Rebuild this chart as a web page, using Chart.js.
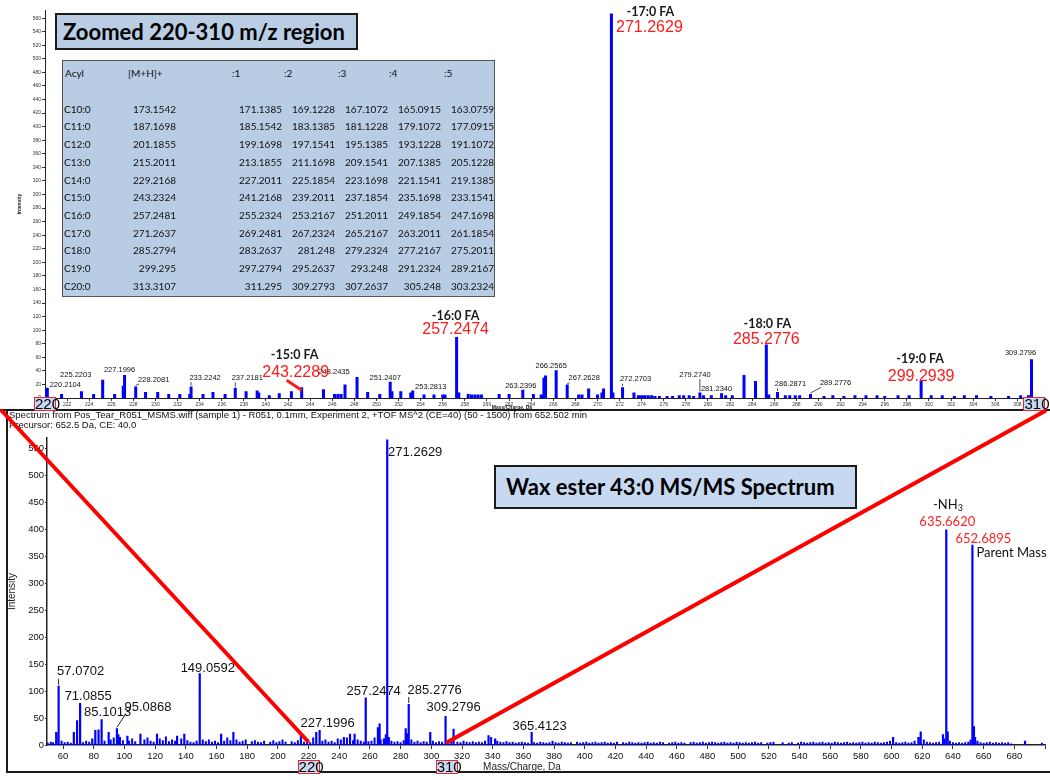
<!DOCTYPE html>
<html>
<head>
<meta charset="utf-8">
<script src="https://cdn.jsdelivr.net/npm/chart.js@4.4.1/dist/chart.umd.min.js"></script>
<style>
html,body{margin:0;padding:0;background:#fff;}
body{position:relative;width:1050px;height:780px;overflow:hidden;font-family:"Liberation Sans",Arial,sans-serif;}
canvas{position:absolute;left:0;}
#c1{top:0;}
#c2{top:410px;}
#sep{position:absolute;left:0;top:409px;width:1050px;height:0;border-top:2px solid #1a1a1a;}
#panel{position:absolute;left:6px;top:409px;width:1044px;height:362px;border-left:2px solid #1a1a1a;border-bottom:2px solid #1a1a1a;}
.hdr{position:absolute;left:9px;font-size:9.5px;color:#111;white-space:nowrap;line-height:11px;}
.tbox{position:absolute;box-sizing:border-box;border:2px solid #1a1a1a;font-family:Lato,"Open Sans",sans-serif;font-weight:bold;font-size:22px;color:#000;white-space:nowrap;padding-left:6px;}
.rbox{position:absolute;box-sizing:border-box;border:1.5px solid #e8262b;background:#c6d9f1;font-size:15px;color:#000;text-align:center;width:22px;height:14px;line-height:12px;}
#tbl{position:absolute;left:62px;top:60px;width:433px;height:237px;box-sizing:border-box;border:1px solid #555;background:#b8cce4;font-family:Lato,sans-serif;font-size:10px;color:#111;}
#tbl span{position:absolute;white-space:nowrap;line-height:12px;}
#overlay{position:absolute;left:0;top:0;pointer-events:none;}
</style>
</head>
<body>
<div id="panel"></div>
<div id="sep"></div>
<canvas id="c1" width="1050" height="410"></canvas>
<canvas id="c2" width="1050" height="370"></canvas>
<div class="hdr" style="top:409px">Spectrum from Pos_Tear_R051_MSMS.wiff (sample 1) - R051, 0.1mm, Experiment 2, +TOF MS^2 (CE=40) (50 - 1500) from 652.502 min</div>
<div class="hdr" style="top:419px">Precursor: 652.5 Da, CE: 40.0</div>
<div class="tbox" style="left:55px;top:13px;width:303px;height:37px;line-height:33px;background:#b9cde5;">Zoomed 220-310 m/z region</div>
<div class="tbox" style="left:494px;top:465px;width:363px;height:44px;line-height:40px;background:#c6d9f1;padding-left:10px;">Wax ester 43:0 MS/MS Spectrum</div>
<div id="tbl"></div>
<div class="rbox" id="bT1">220</div>
<div class="rbox" id="bT2">310</div>
<div class="rbox" id="bB1">220</div>
<div class="rbox" id="bB2">310</div>
<canvas id="overlay" width="1050" height="780"></canvas>
<script>
// ---------------- DATA ----------------
// Zoomed spectrum (m/z, intensity)
const topPeaks = [
 [220.10,10],[220.21,15],[221.50,6],[223.30,10],[224.40,6],[225.22,27],[226.30,6],[227.08,18],[227.20,34],[228.21,17],
 [229.10,9],[230.20,9],[231.20,6],[232.20,6],[233.10,6],[233.22,17],[234.30,6],[235.20,9],[236.30,6],[237.22,15],
 [238.20,10],[239.20,11],[239.35,8],[240.30,4],[241.20,7],[242.30,10],[243.23,16],[245.20,13],[246.20,6],[246.50,6],
 [246.80,6],[247.15,20],[248.24,31],[249.20,9],[250.30,6],[251.24,24],[251.40,10],[252.20,10],[253.10,8],[253.28,11],
 [254.30,5],[255.20,5],[256.00,5],[256.20,5],[257.25,90],[257.45,8],[258.30,6],[258.60,5],[258.90,5],[259.20,5],
 [259.50,5],[261.10,6],[262.00,6],[263.24,12],[264.20,6],[264.90,5],[265.15,30],[265.30,33],[266.26,41],[267.26,20],
 [268.30,5],[268.60,5],[269.20,14],[270.00,5],[270.40,8],[270.55,14],[271.26,567],[271.40,8],[272.27,16],[273.30,8],
 [273.70,4],[273.90,4],[274.10,4],[274.30,4],[274.60,4],[274.90,4],[275.20,3],[275.60,3],[276.30,3],[276.80,3],
 [277.40,4],[277.80,4],[278.30,4],[278.70,3],[279.27,8],[279.60,4],[280.30,4],[281.23,7],[281.60,4],[282.20,4],
 [283.26,34],[284.30,25],[285.28,79],[285.50,5],[286.29,9],[287.00,4],[287.40,4],[287.90,4],[288.30,4],[289.28,6],
 [290.50,3],[291.30,4],[292.30,3],[293.30,4],[294.30,4],[295.30,4],[296.00,3],[297.20,4],[298.20,4],[299.29,26],
 [300.20,4],[301.20,4],[302.30,3],[303.20,4],[304.30,4],[305.60,3],[307.20,3],[308.30,4],[309.00,4],[309.28,57]
];
const topSmallLabels = [
 [220.21,'220.2104'],[225.22,'225.2203'],[227.20,'227.1996'],[228.21,'228.2081'],[233.22,'233.2242'],[237.22,'237.2181'],
 [248.24,'248.2435'],[251.24,'251.2407'],[253.28,'253.2813'],[263.24,'263.2396'],[266.26,'266.2565'],[267.26,'267.2628'],
 [272.27,'272.2703'],[279.27,'279.2740'],[281.23,'281.2340'],[286.29,'286.2871'],[289.28,'289.2776'],[309.28,'309.2796']
];
const faPeaks  = [243.23, 257.25, 271.26, 285.28, 299.29];
const faNames  = ['-15:0 FA','-16:0 FA','-17:0 FA','-18:0 FA','-19:0 FA'];
const faMasses = ['243.2289','257.2474','271.2629','285.2776','299.2939'];

// Full MS/MS spectrum (m/z, intensity)
const bottomPeaks = [
 [55.5,24],[57.07,110],[67.0,24],[69.1,46],[71.09,78],[79.0,12],[81.0,28],[83.1,29],[85.10,48],[89.7,24],
 [95.09,31],[96.0,20],[97.0,15],[101.9,17],[110.4,21],[121.2,21],[134.3,17],[139.0,21],[149.06,133],[163.0,21],
 [171.0,24],[215.0,24],[225.0,24],[227.20,28],[243.0,15],[247.0,21],[250.0,21],[257.25,88],[265.2,33],[266.3,40],
 [271.26,567],[272.3,15],[283.3,31],[284.3,22],[285.28,76],[299.3,24],[309.28,54],[314.5,30],[337.3,18],[341.6,12],
 [365.41,24],[601.0,15],[617.5,15],[619.0,25],[633.5,20],[635.66,400],[636.6,25],[652.69,372],[653.7,35],[687.0,8]
];
const bottomNoise = [
 [50,4],[52,6],[53.5,5],[59,8],[61,5],[63,6],[65,4],[73,5],[75,8],[77,6],[87,8],[91,10],[93,14],[99,9],[103,8],[105,12],[107,7],
 [113,10],[115,14],[117,8],[119,6],[123,12],[125,9],[127,16],[129,7],[131,10],[133,8],[137,12],[141,9],[143,6],[145,5],[147,8],
 [151,10],[153,7],[155,10],[157,6],[159,8],[161,5],[165,8],[167,14],[169,9],[173,10],[175,6],[177,8],[179,10],[183,7],[185,9],
 [187,6],[189,5],[191,8],[195,6],[197,9],[199,5],[201,7],[203,10],[205,6],[209,7],[211,5],[213,9],[217,6],[219,8],[221,5],[223,14],
 [229,8],[231,10],[233,6],[235,8],[237,5],[239,12],[241,10],[245,14],[249,9],[252,10],[254,8],[256,6],[259,7],[261,8],[263,14],
 [267,10],[269,12],[270.3,20],[274,8],[276,6],[278,7],[280,5],[282,9],[287,10],[289,6],[291,8],[293,5],[295,7],[297,6],[301,8],
 [303,5],[305,7],[307,6],[311,8],[313,10],[317,6],[319,5],[321,8],[323,6],[325,5],[327,7],[329,5],[331,6],[333,5],[335,8],[339,15],
 [343,8],[345,6],[347,5],[349,7],[351,5],[353,6],[355,4],[357,5],[359,6],[361,5],[363,4],[367,5],[369,4],[371,6],[373,5],[375,4],
 [377,5],[379,8],[381,5],[383,4],[385,6],[387,5],[389,4],[391,5],[395,6],[397,4],[399,5],[401,6],[403,4],[405,5],[407,6],[409,4],
 [411,5],[413,6],[415,4],[417,5],[419,4],[421,6],[425,5],[427,4],[429,6],[431,5],[433,4],[435,5],[437,4],[439,5],[441,6],[443,4],
 [445,5],[447,4],[449,6],[451,5],[455,4],[457,5],[459,6],[461,4],[463,5],[465,4],[469,5],[471,6],[473,4],[475,5],[477,6],[479,4],
 [481,5],[483,6],[485,5],[487,4],[489,5],[491,6],[493,4],[495,5],[497,4],[499,6],[501,5],[503,4],[505,5],[507,4],[509,5],[511,6],
 [513,4],[515,5],[519,4],[521,5],[523,6],[529,5],[533,4],[535,5],[539,4],[541,6],[543,5],[545,4],[547,5],[549,6],[551,4],[553,5],
 [555,6],[557,4],[559,5],[561,4],[563,6],[565,5],[567,4],[569,5],[571,6],[573,4],[575,5],[577,4],[579,5],[581,6],[583,4],[585,5],
 [587,4],[589,6],[591,5],[593,4],[595,5],[597,6],[599,8],[603,5],[605,4],[607,5],[609,6],[611,4],[613,5],[615,8],[621,10],[623,6],
 [625,5],[627,4],[629,5],[631,6],[634.5,12],[638,8],[640,5],[642,4],[644,5],[646,4],[648,5],[650,6],[651.5,10],[654.5,15],[656,8],
 [658,5],[660,4],[662,5],[664,6],[666,4],[668,5],[670,4],[672,5],[674,4],[676,5],[678,3],[698,4]
];
const bottomLabels = [
 [57.07,'57.0702'],[71.09,'71.0855'],[85.10,'85.1013'],[95.09,'95.0868'],[149.06,'149.0592'],[227.20,'227.1996'],
 [257.25,'257.2474'],[271.26,'271.2629'],[285.28,'285.2776'],[309.28,'309.2796'],[365.41,'365.4123']
];
const nh3Peak = 635.66, nh3Mass = '635.6620';
const parentPeak = 652.69, parentMass = '652.6895';
const zoomRange = [220, 310];

// Table of acyl fragment masses
const tableHeader = ['Acyl','[M+H]+',':1',':2',':3',':4',':5'];
const acylNames = ['C10:0','C11:0','C12:0','C13:0','C14:0','C15:0','C16:0','C17:0','C18:0','C19:0','C20:0'];
const mhMass = ['173.1542','187.1698','201.1855','215.2011','229.2168','243.2324','257.2481','271.2637','285.2794','299.295','313.3107'];
const unsat1 = ['171.1385','185.1542','199.1698','213.1855','227.2011','241.2168','255.2324','269.2481','283.2637','297.2794','311.295'];
const unsat2 = ['169.1228','183.1385','197.1541','211.1698','225.1854','239.2011','253.2167','267.2324','281.248','295.2637','309.2793'];
const unsat3 = ['167.1072','181.1228','195.1385','209.1541','223.1698','237.1854','251.2011','265.2167','279.2324','293.248','307.2637'];
const unsat4 = ['165.0915','179.1072','193.1228','207.1385','221.1541','235.1698','249.1854','263.2011','277.2167','291.2324','305.248'];
const unsat5 = ['163.0759','177.0915','191.1072','205.1228','219.1385','233.1541','247.1698','261.1854','275.2011','289.2167','303.2324'];

// ---------------- LAYOUT (offsets in px, not data) ----------------
const topSmallLayout = [[18,-3,0],[-27,-5,1],[-5,-5,0],[18,-7,1],[14,-9,1],[12,-10,1],[-23,-5,0],[-5,-4,0],[18,-4,1],
 [-2,-4,0],[-5,-4,0],[17,-6,1],[13,-8,1],[-5,-18,1],[-5,-4,0],[13,-8,1],[25,-11,1],[-11,-6,0]];
const faLayout = [[-7,-32,-6,-15,1],[-1,-21,-1,-7,0],[39,-1,38,14,0],[1,-20,0,-5,0],[-1,-21,0,-4,0]];
const bottomLayout = [[22,-14,1],[8,-7,0],[6,-7,0],[31,-21,1],[8,-5,0],[8,-6,0],[8,-6,0],[28,13,0],[26,-14,1],[8,-8,0],[8,-6,0]];

// ---------------- HELPERS ----------------
function sticks(list){ const out=[]; list.forEach(([m,v])=>{ out.push({x:m,y:0},{x:m,y:v},{x:m,y:null}); }); return out; }
function valAt(list,m){ const p=list.find(q=>Math.abs(q[0]-m)<1e-6); return p?p[1]:0; }
function leader(ctx,px,py,tx,ty,w,h,color,lw){
  let sx=Math.min(Math.max(px,tx-w/2+1),tx+w/2-1);
  const sy=ty+h/2+1;
  if(py-1<=sy) return;
  ctx.beginPath(); ctx.moveTo(sx,sy); ctx.lineTo(px,py-1);
  ctx.lineWidth=lw; ctx.strokeStyle=color; ctx.stroke();
}

// ---------------- TOP CHART ----------------
const topPlugin = {id:'topAnn', afterDraw(chart){
  const {ctx, scales:{x,y}, chartArea:a} = chart;
  ctx.save();
  ctx.textAlign='center'; ctx.textBaseline='middle';
  // small labels
  ctx.font='7.5px "Liberation Sans", Arial'; ctx.fillStyle='#111';
  topSmallLabels.forEach(([m,t],i)=>{
    const px=x.getPixelForValue(m), py=y.getPixelForValue(valAt(topPeaks,m));
    const [dx,dy,ld]=topSmallLayout[i]; const tx=px+dx, ty=py+dy;
    ctx.fillText(t,tx,ty);
    if(ld){ const w=ctx.measureText(t).width; leader(ctx,px,py,tx,ty,w,7,'#222',0.8); }
  });
  // FA labels
  faPeaks.forEach((m,i)=>{
    const px=x.getPixelForValue(m), py=y.getPixelForValue(valAt(topPeaks,m));
    const [ndx,ndy,mdx,mdy,ld]=faLayout[i];
    ctx.font='bold 12.5px Lato, "Open Sans", sans-serif'; ctx.fillStyle='#1a1a1a';
    ctx.fillText(faNames[i],px+ndx,py+ndy);
    ctx.font='16px "Liberation Sans", Arial'; ctx.fillStyle='#ff1a1a';
    ctx.fillText(faMasses[i],px+mdx,py+mdy);
    if(ld){ ctx.beginPath(); ctx.moveTo(px+mdx-9,py+mdy+8); ctx.lineTo(px,py+3); ctx.lineWidth=3; ctx.strokeStyle='#ff1a1a'; ctx.stroke(); }
  });
  // axis titles
  ctx.fillStyle='#222'; ctx.font='bold 5px "Liberation Sans", Arial';
  ctx.fillText('Mass/Charge, Da',(a.left+a.right)/2-33,a.bottom+9.5);
  ctx.translate(a.left-25,(a.top+a.bottom)/2); ctx.rotate(-Math.PI/2);
  ctx.fillText('Intensity',0,0);
  ctx.restore();
}};

const chartT = new Chart(document.getElementById('c1'),{
  type:'line',
  data:{datasets:[{data:sticks(topPeaks),borderColor:'#0000ff',borderWidth:3,pointRadius:0,spanGaps:false,tension:0,borderCapStyle:'butt'}]},
  options:{
    responsive:false, animation:false, devicePixelRatio:1, events:[],
    layout:{padding:{top:10,right:5,left:0,bottom:0}},
    plugins:{legend:{display:false},tooltip:{enabled:false}},
    scales:{
      x:{type:'linear',min:220,max:310.5,
        afterFit:(s)=>{s.height=12;},
        ticks:{stepSize:2,autoSkip:false,maxRotation:0,includeBounds:false,padding:1,font:{size:5,family:'"Liberation Sans", Arial'},color:'#333',
          callback:(v)=> (v===220||v===310)?'':String(v)},
        grid:{display:true,drawOnChartArea:false,tickLength:3,color:'#333'},
        border:{color:'#222',width:1}},
      y:{min:0,max:572,
        afterFit:(s)=>{s.width=45;},
        ticks:{stepSize:20,includeBounds:false,padding:1,font:{size:5,family:'"Liberation Sans", Arial'},color:'#333'},
        grid:{display:true,drawOnChartArea:false,tickLength:3,color:'#333'},
        border:{color:'#222',width:1}}
    }
  },
  plugins:[topPlugin]
});

// ---------------- BOTTOM CHART ----------------
const botPlugin = {id:'botAnn', afterDraw(chart){
  const {ctx, scales:{x,y}, chartArea:a} = chart;
  ctx.save();
  ctx.textAlign='center'; ctx.textBaseline='middle';
  ctx.font='13px "Liberation Sans", Arial'; ctx.fillStyle='#111';
  bottomLabels.forEach(([m,t],i)=>{
    const px=x.getPixelForValue(m), py=y.getPixelForValue(valAt(bottomPeaks,m));
    const [dx,dy,ld]=bottomLayout[i]; const tx=px+dx, ty=py+dy;
    ctx.fillText(t,tx,ty);
    if(ld){ const w=ctx.measureText(t).width; leader(ctx,px,py,tx,ty,w,12,'#222',1); }
  });
  // -NH3 / 635.6620
  let px=x.getPixelForValue(nh3Peak), py=y.getPixelForValue(valAt(bottomPeaks,nh3Peak));
  ctx.font='13px Lato, "Open Sans", sans-serif'; ctx.fillStyle='#111';
  const wNH=ctx.measureText('-NH').width;
  ctx.textAlign='left';
  ctx.fillText('-NH',px+2-wNH/2-3,py-25);
  ctx.font='9px Lato, "Open Sans", sans-serif';
  ctx.fillText('3',px+2+wNH/2-3,py-21);
  ctx.textAlign='center';
  ctx.font='13px Lato, "Open Sans", sans-serif'; ctx.fillStyle='#ff2020';
  ctx.fillText(nh3Mass,px+1,py-8);
  // parent
  px=x.getPixelForValue(parentPeak); py=y.getPixelForValue(valAt(bottomPeaks,parentPeak));
  ctx.fillText(parentMass,px+11,py-6);
  ctx.fillStyle='#111'; ctx.textAlign='left';
  ctx.fillText('Parent Mass',px+4,py+8);
  // axis titles
  ctx.textAlign='center'; ctx.fillStyle='#222'; ctx.font='10px "Liberation Sans", Arial';
  ctx.fillText('Mass/Charge, Da',(a.left+a.right)/2-24,a.bottom+22);
  ctx.translate(12,(a.top+a.bottom)/2); ctx.rotate(-Math.PI/2);
  ctx.fillText('Intensity',0,0);
  ctx.restore();
}};

const chartB = new Chart(document.getElementById('c2'),{
  type:'line',
  data:{datasets:[
    {data:sticks(bottomNoise),borderColor:'#0000ff',borderWidth:2,pointRadius:0,spanGaps:false,tension:0,borderCapStyle:'butt'},
    {data:sticks(bottomPeaks),borderColor:'#0000ff',borderWidth:2.2,pointRadius:0,spanGaps:false,tension:0,borderCapStyle:'butt'}
  ]},
  options:{
    responsive:false, animation:false, devicePixelRatio:1, events:[],
    layout:{padding:{top:28,right:5,left:0,bottom:0}},
    plugins:{legend:{display:false},tooltip:{enabled:false}},
    scales:{
      x:{type:'linear',min:49.5,max:700,
        afterFit:(s)=>{s.height=35;},
        ticks:{stepSize:20,autoSkip:false,maxRotation:0,includeBounds:false,padding:2,font:{size:9.5,family:'"Liberation Sans", Arial'},color:'#111',
          callback:(v)=> (v<60||v>680)?'':String(v)},
        grid:{display:true,drawOnChartArea:false,tickLength:4,color:'#333'},
        border:{color:'#222',width:1.5}},
      y:{min:0,max:570,
        afterFit:(s)=>{s.width=47;},
        ticks:{stepSize:50,includeBounds:false,padding:1,font:{size:9.5,family:'"Liberation Sans", Arial'},color:'#111'},
        grid:{display:true,drawOnChartArea:false,tickLength:2,color:'#333'},
        border:{color:'#222',width:1.5}}
    }
  },
  plugins:[botPlugin]
});

// ---------------- TABLE ----------------
(function(){
  const tbl=document.getElementById('tbl');
  function put(txt,left,right,mid){
    const s=document.createElement('span'); s.textContent=txt;
    if(right!=null){ s.style.right=(433-2-right)+'px'; } else { s.style.left=left+'px'; }
    s.style.top=(mid-6)+'px'; tbl.appendChild(s);
  }
  const hdrLeft=[2,65,169,221,275,326,381];
  tableHeader.forEach((h,i)=>put(h,hdrLeft[i],null,12));
  const rights=[113,219,272,325,378,431];
  const cols=[mhMass,unsat1,unsat2,unsat3,unsat4,unsat5];
  acylNames.forEach((n,r)=>{
    const mid=47.7+17.7*r;
    put(n,1,null,mid);
    cols.forEach((c,ci)=>put(c[r],null,rights[ci],mid));
  });
})();

// ---------------- RED BOXES & ZOOM LINES ----------------
(function(){
  const tx=chartT.scales.x, bx=chartB.scales.x, by=chartB.scales.y;
  function place(id,cx,top){ const e=document.getElementById(id); e.style.left=(cx-11)+'px'; e.style.top=top+'px'; }
  place('bT1',tx.getPixelForValue(zoomRange[0]),397);
  place('bT2',tx.getPixelForValue(zoomRange[1])-5,397);
  const bTop=410+chartB.chartArea.bottom+15;
  place('bB1',bx.getPixelForValue(zoomRange[0]),bTop);
  place('bB2',bx.getPixelForValue(zoomRange[1]),bTop);
  const ov=document.getElementById('overlay').getContext('2d');
  const baseY=410+by.getPixelForValue(0);
  ov.strokeStyle='#ff0000'; ov.lineWidth=4; ov.lineCap='round';
  ov.beginPath(); ov.moveTo(chartT.chartArea.left-43,411); ov.lineTo(bx.getPixelForValue(zoomRange[0])-1,baseY-4); ov.stroke();
  ov.beginPath(); ov.moveTo(chartT.chartArea.right,411); ov.lineTo(bx.getPixelForValue(zoomRange[1])+1,baseY-3); ov.stroke();
})();
</script>
</body>
</html>
